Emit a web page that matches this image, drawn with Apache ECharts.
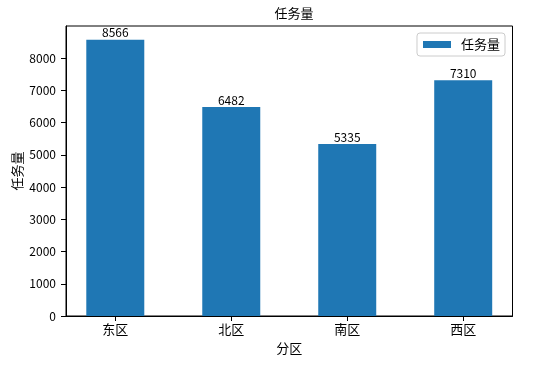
<!DOCTYPE html>
<html>
<head>
<meta charset="utf-8">
<script src="https://cdn.jsdelivr.net/npm/echarts@6/dist/echarts.min.js"></script>
<style>
html,body{margin:0;padding:0;background:#fff;}
#chart{width:548px;height:367px;}
</style>
</head>
<body>
<div id="chart"></div>
<script>
const categories = ['东区', '北区', '南区', '西区'];
const taskValues = [8566, 6482, 5335, 7310];
const yTicks = [0, 1000, 2000, 3000, 4000, 5000, 6000, 7000, 8000];
const seriesName = '任务量';
const chartTitle = '任务量';
const xName = '分区';
const yName = '任务量';

const FONT = '"Noto Sans CJK SC", sans-serif';
const xPositions = categories.map((c, i) => i);
const yMax = Math.max(...taskValues) * 1.05;

const chart = echarts.init(document.getElementById('chart'), null, {renderer: 'canvas'});
chart.setOption({
  animation: false,
  backgroundColor: '#ffffff',
  textStyle: {fontFamily: FONT, color: '#000'},
  title: {
    text: chartTitle,
    left: 289, top: 2, textAlign: 'center',
    textStyle: {fontFamily: FONT, fontSize: 13, fontWeight: 'normal', color: '#000'}
  },
  legend: {
    data: [seriesName],
    right: 43, top: 33,
    orient: 'vertical',
    itemWidth: 28, itemHeight: 7,
    padding: [5, 5, 5, 6],
    borderColor: '#cccccc', borderWidth: 1, borderRadius: 3,
    backgroundColor: 'rgba(255,255,255,0.8)',
    icon: 'rect',
    textStyle: {fontFamily: FONT, fontSize: 13, color: '#000', padding: [0, 0, 0, 5]}
  },
  grid: {
    left: 66, right: 35.5, top: 26, bottom: 51,
    outerBoundsMode: 'none',
    containLabel: false,
    show: true, borderColor: '#000', borderWidth: 1, backgroundColor: 'transparent'
  },
  xAxis: {
    type: 'value',
    min: -0.425, max: 3.425,
    name: xName, nameLocation: 'middle', nameGap: 26, nameMoveOverlap: false,
    nameTextStyle: {fontFamily: FONT, fontSize: 13, color: '#000'},
    splitLine: {show: false},
    axisLine: {show: true, onZero: false, lineStyle: {color: '#000', width: 1}},
    axisTick: {show: true, length: 5, inside: false, customValues: xPositions, lineStyle: {color: '#000'}},
    axisLabel: {
      customValues: xPositions, margin: 7,
      fontFamily: FONT, fontSize: 13, color: '#000',
      formatter: v => categories[Math.round(v)] || ''
    }
  },
  yAxis: {
    type: 'value',
    min: 0, max: yMax,
    name: yName, nameLocation: 'middle', nameGap: 42, nameMoveOverlap: false,
    nameTextStyle: {fontFamily: FONT, fontSize: 13, color: '#000'},
    splitLine: {show: false},
    axisLine: {show: true, onZero: false, lineStyle: {color: '#000', width: 1}},
    axisTick: {show: true, length: 5, customValues: yTicks, lineStyle: {color: '#000'}},
    axisLabel: {customValues: yTicks, margin: 10, fontFamily: FONT, fontSize: 12, color: '#000',
      formatter: v => String(Math.round(v))}
  },
  series: [{
    name: seriesName,
    type: 'bar',
    barWidth: '50%',
    itemStyle: {color: '#1f77b4'},
    label: {show: true, position: 'top', distance: 1, fontFamily: FONT, fontSize: 12, color: '#000'},
    data: xPositions.map((x, i) => [x, taskValues[i]])
  }]
});
</script>
</body>
</html>
